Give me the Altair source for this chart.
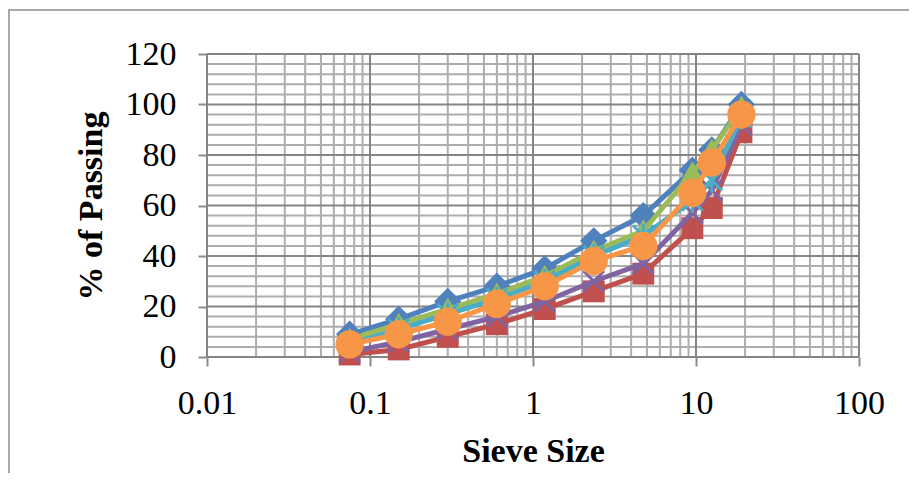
import altair as alt
import pandas as pd

# ---- data ----
sieve = [0.075, 0.15, 0.3, 0.6, 1.18, 2.36, 4.75, 9.5, 12.5, 19]
series_names = ["Series1", "Series2", "Series3", "Series4", "Series5", "Series6"]
s1 = [9, 15, 22, 28, 35, 46, 56, 74, 82, 100]
s2 = [1, 3, 8, 13, 19, 26, 33, 51, 59, 89]
s3 = [7, 13, 19, 25, 32, 42, 50, 73, 82, 99]
s4 = [2, 6, 11, 16, 22, 30, 37, 57, 66, 92]
s5 = [5, 11, 17, 23, 30, 40, 48, 62, 70, 95]
s6 = [5, 9, 14, 21, 28, 38, 44, 65, 77, 96]
series_values = [s1, s2, s3, s4, s5, s6]

x_ticks = [0.01, 0.1, 1, 10, 100]
y_ticks = [0, 20, 40, 60, 80, 100, 120]
x_minor = [k * 10.0 ** e for e in range(-2, 2) for k in range(2, 10)]
y_minor = [v for v in range(0, 121, 4) if v % 20 != 0]

colors = ["#4F81BD", "#C0504D", "#9BBB59", "#8064A2", "#4BACC6", "#F79646"]
shapes = ["diamond", "square", "triangle-up",
          "M-1,-1L1,1M-1,1L1,-1",
          "M-1,-1L1,1M-1,1L1,-1M0,-1.2L0,1.2",
          "circle"]
sizes = [750, 480, 700, 420, 420, 800]

W, H = 652, 303
FONT = "Liberation Serif"

xscale = alt.Scale(type="log", domain=[0.01, 100], nice=False)
yscale = alt.Scale(domain=[0, 120], nice=False)

xaxis = alt.Axis(values=x_ticks, format="~g", grid=False, domain=False,
                 tickColor="#8c8c8c", tickWidth=2, tickSize=9,
                 labelFont=FONT, labelFontSize=34, labelColor="black",
                 labelPadding=20, labelFlush=False,
                 title="Sieve Size", titleFont=FONT, titleFontSize=34,
                 titleFontWeight="bold", titleColor="black", titlePadding=14)
yaxis = alt.Axis(values=y_ticks, grid=False, domain=False,
                 tickColor="#8c8c8c", tickWidth=2, tickSize=9,
                 labelFont=FONT, labelFontSize=34, labelColor="black",
                 labelPadding=22, labelFlush=False,
                 title="% of Passing", titleFont=FONT, titleFontSize=34,
                 titleFontWeight="bold", titleColor="black", titlePadding=17)

X = lambda f: alt.X(f"{f}:Q", scale=xscale, axis=xaxis)
Y = lambda f: alt.Y(f"{f}:Q", scale=yscale, axis=yaxis)

vminor = alt.Chart(pd.DataFrame({"x": x_minor})).mark_rule(
    color="#adadad", strokeWidth=2).encode(x=X("x"))
hminor = alt.Chart(pd.DataFrame({"y": y_minor})).mark_rule(
    color="#adadad", strokeWidth=2).encode(y=Y("y"))
vmajor = alt.Chart(pd.DataFrame({"x": x_ticks})).mark_rule(
    color="#858585", strokeWidth=2).encode(x=X("x"))
hmajor = alt.Chart(pd.DataFrame({"y": y_ticks})).mark_rule(
    color="#858585", strokeWidth=2).encode(y=Y("y"))

layers = [vminor, hminor, vmajor, hmajor]
for name, vals, col, shp, sz in zip(series_names, series_values, colors, shapes, sizes):
    df = pd.DataFrame({"x": sieve, "y": vals, "series": name})
    base = alt.Chart(df)
    line = base.mark_line(color=col, strokeWidth=5).encode(x=X("x"), y=Y("y"))
    if shp.startswith("M"):
        pts = base.mark_point(shape=shp, filled=False, color=col, size=sz,
                              strokeWidth=3, opacity=1).encode(x=X("x"), y=Y("y"))
    else:
        pts = base.mark_point(shape=shp, filled=True, color=col, size=sz,
                              opacity=1).encode(x=X("x"), y=Y("y"))
    layers += [line, pts]

frame = alt.Chart(pd.DataFrame({"a": [0]})).mark_rect(
    fill=None, stroke="#8c8c8c", strokeWidth=1.5).encode(
    x=alt.value(-198), x2=alt.value(W + 80), y=alt.value(-44), y2=alt.value(H + 140))
layers.append(frame)

chart = alt.layer(*layers).properties(
    width=W, height=H,
    autosize=alt.AutoSizeParams(type="none"),
    padding={"left": 199, "top": 46, "right": 50, "bottom": 116},
    background="white",
).configure_view(stroke=None)

chart.save("out.html", embed_options={"renderer": "svg", "actions": False})
